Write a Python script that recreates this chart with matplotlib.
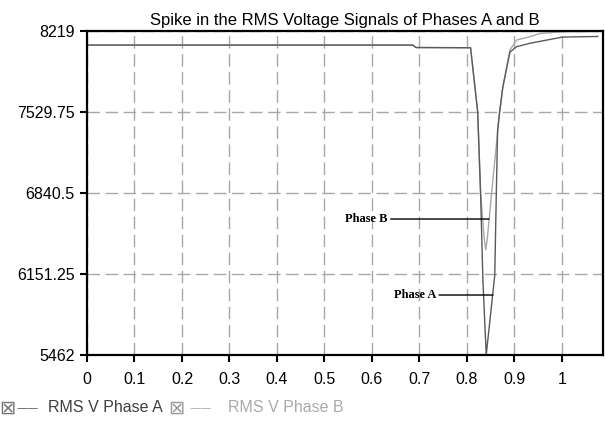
import matplotlib
matplotlib.use("Agg")
import matplotlib.pyplot as plt

# time (s) and RMS voltage
time_a = [0.0, 0.686, 0.693, 0.808, 0.823, 0.829, 0.834, 0.841, 0.859, 0.862,
          0.865, 0.869, 0.876, 0.891, 0.905, 0.933, 1.002, 1.076]
rms_a = [8097, 8097, 8076, 8074, 7530, 6850, 6100, 5462, 6142, 6780,
         7375, 7520, 7740, 8038, 8083, 8112, 8165, 8170]

time_b = [0.0, 0.686, 0.693, 0.808, 0.823, 0.829, 0.836, 0.840, 0.843, 0.855,
          0.869, 0.876, 0.891, 0.905, 0.933, 0.954, 1.002, 1.076]
rms_b = [8097, 8097, 8076, 8074, 7530, 6850, 6482, 6355, 6440, 6950,
         7520, 7740, 8055, 8140, 8168, 8195, 8210, 8212]

y_ticks = [5462, 6151.25, 6840.5, 7529.75, 8219]
y_labels = ["5462", "6151.25", "6840.5", "7529.75", "8219"]
x_ticks = [0, 0.1, 0.2, 0.3, 0.4, 0.5, 0.6, 0.7, 0.8, 0.9, 1.0]
x_labels = ["0", "0.1", "0.2", "0.3", "0.4", "0.5", "0.6", "0.7", "0.8", "0.9", "1"]

col_a = "#5a5a5a"
col_b = "#a8a8a8"

plt.rcParams['font.family'] = ['Liberation Sans', 'DejaVu Sans']

fig = plt.figure(figsize=(6.05, 4.21), dpi=100)
ax = fig.add_axes([87 / 605, 66 / 421, 516 / 605, 324.3 / 421])

ax.plot(time_b, rms_b, color=col_b, lw=1.0)
ax.plot(time_a, rms_a, color=col_a, lw=1.0)

ax.set_xlim(0, 1.087)
ax.set_ylim(5462, 8219)
ax.set_xticks(x_ticks)
ax.set_xticklabels(x_labels)
ax.set_yticks(y_ticks)
ax.set_yticklabels(y_labels)
ax.tick_params(labelsize=11.5, length=5, width=1.5, colors="black", pad=4)
ax.tick_params(axis="x", pad=7)
ax.grid(True, color="#a8a8a8", lw=1, linestyle=(0, (9, 4)))
for s in ax.spines.values():
    s.set_linewidth(1.6)
    s.set_color("black")

ax.set_title("Spike in the RMS Voltage Signals of Phases A and B", fontsize=12, pad=4)

ax.annotate("Phase B", xy=(0.847, 6618), xytext=(0.634, 6618), ha="right", va="center",
            fontsize=9, fontweight="bold", family="Liberation Serif",
            arrowprops=dict(arrowstyle="-", color="black", lw=1, shrinkA=0, shrinkB=0))
ax.annotate("Phase A", xy=(0.855, 5972), xytext=(0.736, 5972), ha="right", va="center",
            fontsize=9, fontweight="bold", family="Liberation Serif",
            arrowprops=dict(arrowstyle="-", color="black", lw=1, shrinkA=0, shrinkB=0))

# legend strip along the bottom
ly = 0.031
fig.text(-1 / 605, ly, "\u22a0", family="DejaVu Sans", fontsize=14, color="#777777", va="center")
fig.text(16 / 605, ly, "\u2014\u2014", family="DejaVu Sans", fontsize=8, color=col_a, va="center")
fig.text(48 / 605, ly, "RMS V Phase A", fontsize=11.5, color="#404040", va="center")
fig.text(168 / 605, ly, "\u22a0", family="DejaVu Sans", fontsize=14, color="#999999", va="center")
fig.text(189 / 605, ly, "\u2014\u2014", family="DejaVu Sans", fontsize=8, color=col_b, va="center")
fig.text(228 / 605, ly, "RMS V Phase B", fontsize=11.5, color="#aaaaaa", va="center")

fig.savefig("out.png", dpi=100)
